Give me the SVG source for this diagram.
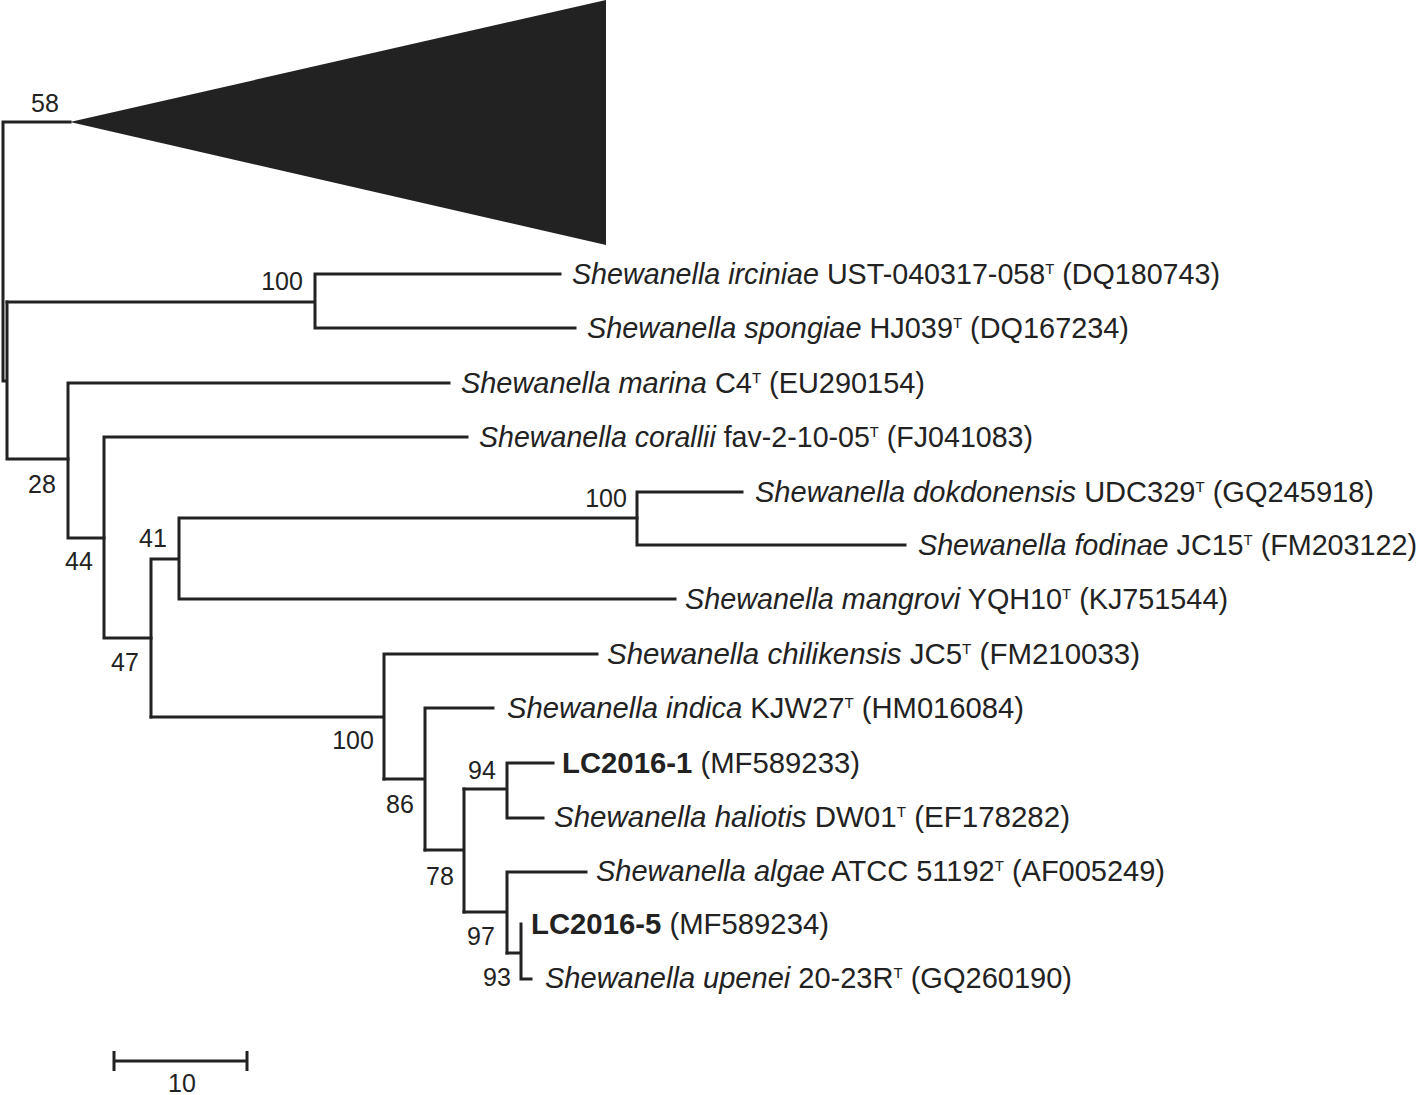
<svg xmlns="http://www.w3.org/2000/svg" width="1419" height="1095" viewBox="0 0 1419 1095">
<style>
.br{fill:none;stroke:#222;stroke-width:3;stroke-linecap:square;stroke-linejoin:miter}
.lab{font-family:"Liberation Sans",Arial,sans-serif;font-size:29px;fill:#222}
.bs{font-family:"Liberation Sans",Arial,sans-serif;font-size:25px;fill:#222;text-anchor:middle}
.i{font-style:italic}
.b{font-weight:bold}
.sup{font-size:15px}
</style>
<rect width="1419" height="1095" fill="#fff"/>
<g id="connectors">
<path class="br" d="M3,122 V381 H7 M7,302 V459 H68 M3,122 H70"/>
<path class="br" d="M7,302 H315 M315,274 V328 M315,274 H560 M315,328 H575"/>
<path class="br" d="M68,383 V538 H104 M68,383 H449"/>
<path class="br" d="M104,437 V638 H151 M104,437 H467"/>
<path class="br" d="M151,559 V717 M151,559 H179 M179,518 V599 M179,518 H637 M179,599 H675"/>
<path class="br" d="M637,492 V545 M637,492 H742 M637,545 H905"/>
<path class="br" d="M151,717 H384 M384,654 V779 M384,654 H597"/>
<path class="br" d="M384,779 H425 M425,708 V850 M425,708 H493"/>
<path class="br" d="M425,850 H464 M464,789 V912"/>
<path class="br" d="M464,789 H507 M507,763 V818 M507,763 H553 M507,818 H543"/>
<path class="br" d="M464,912 H507 M507,872 V953 M507,872 H586"/>
<path class="br" d="M507,953 H521 M521,924 V979 H531"/>
</g>
<g id="collapsed-clade"><polygon points="70,122 606,0 606,245" fill="#222"/></g>
<g id="bootstrap">
<text class="bs" x="45" y="112">58</text>
<text class="bs" x="282" y="290">100</text>
<text class="bs" x="42" y="493">28</text>
<text class="bs" x="79" y="570">44</text>
<text class="bs" x="153" y="547">41</text>
<text class="bs" x="125" y="671">47</text>
<text class="bs" x="606" y="507">100</text>
<text class="bs" x="353" y="749">100</text>
<text class="bs" x="400" y="813">86</text>
<text class="bs" x="482" y="779">94</text>
<text class="bs" x="440" y="885">78</text>
<text class="bs" x="481" y="945">97</text>
<text class="bs" x="497" y="986">93</text>
</g>
<g id="leaf-irciniae"><text class="lab" x="572" y="284" textLength="648" lengthAdjust="spacingAndGlyphs"><tspan class="i">Shewanella irciniae</tspan> UST-040317-058<tspan class="sup" dy="-10">T</tspan><tspan dy="10"> (DQ180743)</tspan></text></g>
<g id="leaf-spongiae"><text class="lab" x="587" y="338" textLength="542" lengthAdjust="spacingAndGlyphs"><tspan class="i">Shewanella spongiae</tspan> HJ039<tspan class="sup" dy="-10">T</tspan><tspan dy="10"> (DQ167234)</tspan></text></g>
<g id="leaf-marina"><text class="lab" x="461" y="393" textLength="464" lengthAdjust="spacingAndGlyphs"><tspan class="i">Shewanella marina</tspan> C4<tspan class="sup" dy="-10">T</tspan><tspan dy="10"> (EU290154)</tspan></text></g>
<g id="leaf-corallii"><text class="lab" x="479" y="447" textLength="554" lengthAdjust="spacingAndGlyphs"><tspan class="i">Shewanella corallii</tspan> fav-2-10-05<tspan class="sup" dy="-10">T</tspan><tspan dy="10"> (FJ041083)</tspan></text></g>
<g id="leaf-dokdonensis"><text class="lab" x="755" y="502" textLength="619" lengthAdjust="spacingAndGlyphs"><tspan class="i">Shewanella dokdonensis</tspan> UDC329<tspan class="sup" dy="-10">T</tspan><tspan dy="10"> (GQ245918)</tspan></text></g>
<g id="leaf-fodinae"><text class="lab" x="918" y="555" textLength="499" lengthAdjust="spacingAndGlyphs"><tspan class="i">Shewanella fodinae</tspan> JC15<tspan class="sup" dy="-10">T</tspan><tspan dy="10"> (FM203122)</tspan></text></g>
<g id="leaf-mangrovi"><text class="lab" x="685" y="609" textLength="543" lengthAdjust="spacingAndGlyphs"><tspan class="i">Shewanella mangrovi</tspan> YQH10<tspan class="sup" dy="-10">T</tspan><tspan dy="10"> (KJ751544)</tspan></text></g>
<g id="leaf-chilikensis"><text class="lab" x="607" y="664" textLength="533" lengthAdjust="spacingAndGlyphs"><tspan class="i">Shewanella chilikensis</tspan> JC5<tspan class="sup" dy="-10">T</tspan><tspan dy="10"> (FM210033)</tspan></text></g>
<g id="leaf-indica"><text class="lab" x="507" y="718" textLength="517" lengthAdjust="spacingAndGlyphs"><tspan class="i">Shewanella indica</tspan> KJW27<tspan class="sup" dy="-10">T</tspan><tspan dy="10"> (HM016084)</tspan></text></g>
<g id="leaf-LC2016-1"><text class="lab" x="562" y="773" textLength="298" lengthAdjust="spacingAndGlyphs"><tspan class="b">LC2016-1</tspan> (MF589233)</text></g>
<g id="leaf-haliotis"><text class="lab" x="554" y="827" textLength="516" lengthAdjust="spacingAndGlyphs"><tspan class="i">Shewanella haliotis</tspan> DW01<tspan class="sup" dy="-10">T</tspan><tspan dy="10"> (EF178282)</tspan></text></g>
<g id="leaf-algae"><text class="lab" x="596" y="881" textLength="569" lengthAdjust="spacingAndGlyphs"><tspan class="i">Shewanella algae</tspan> ATCC 51192<tspan class="sup" dy="-10">T</tspan><tspan dy="10"> (AF005249)</tspan></text></g>
<g id="leaf-LC2016-5"><text class="lab" x="531" y="934" textLength="298" lengthAdjust="spacingAndGlyphs"><tspan class="b">LC2016-5</tspan> (MF589234)</text></g>
<g id="leaf-upenei"><text class="lab" x="545" y="988" textLength="527" lengthAdjust="spacingAndGlyphs"><tspan class="i">Shewanella upenei</tspan> 20-23R<tspan class="sup" dy="-10">T</tspan><tspan dy="10"> (GQ260190)</tspan></text></g>
<g id="scale-bar">
<path class="br" d="M114,1051 V1071 M114,1061 H247 M247,1051 V1071" style="stroke-linecap:butt"/>
<text class="bs" x="182" y="1092">10</text>
</g>
</svg>
